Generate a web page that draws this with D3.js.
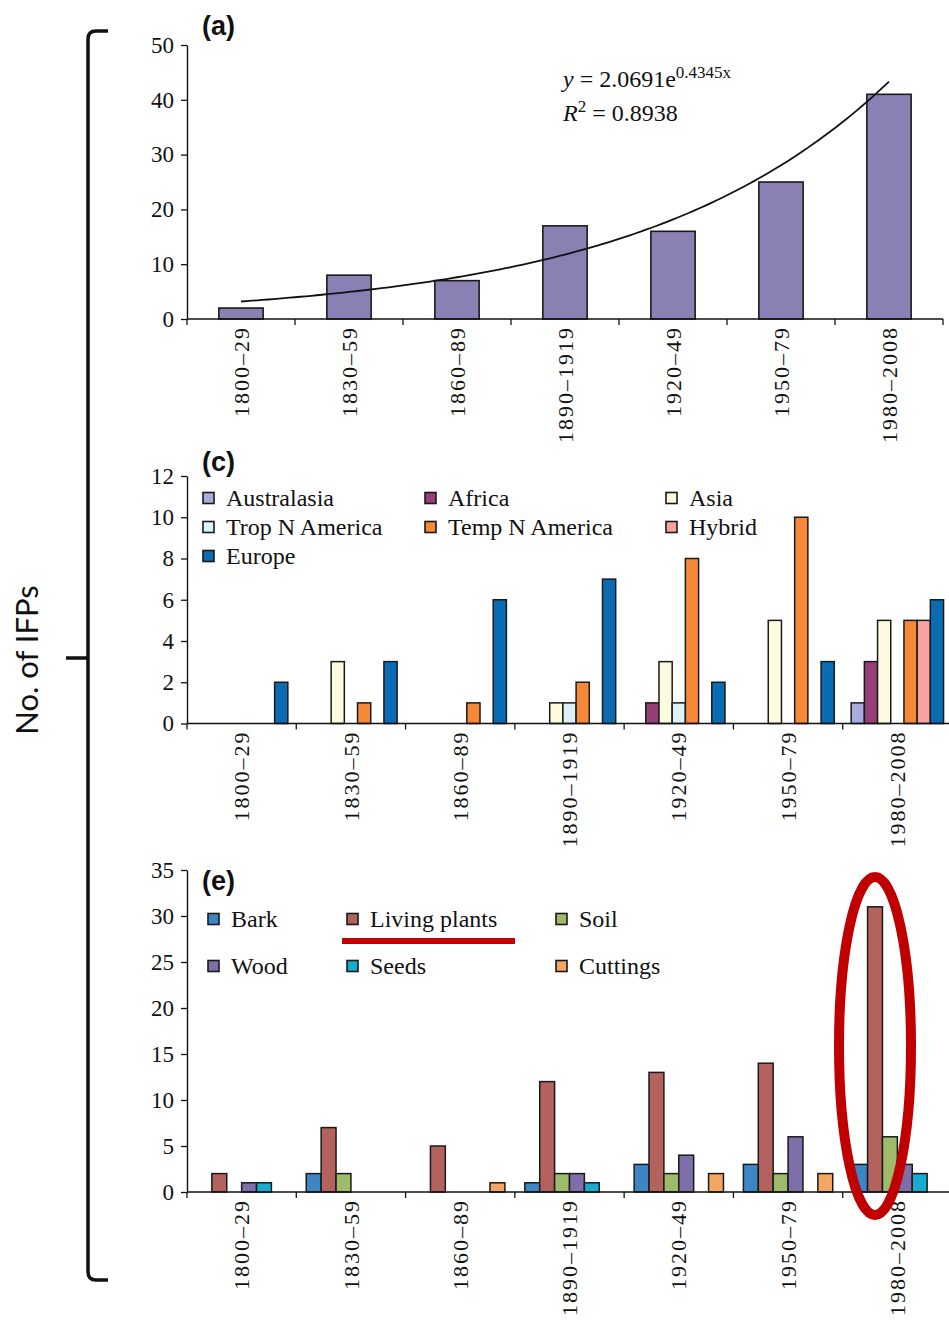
<!DOCTYPE html>
<html>
<head>
<meta charset="utf-8">
<script src="https://cdn.jsdelivr.net/npm/d3@7"></script>
<style>
  html, body { margin: 0; padding: 0; background: #fff; }
  svg { display: block; }
  .tick text { font-family: "Liberation Serif", "Times New Roman", serif; }
</style>
</head>
<body>
<svg id="fig" width="949" height="1323"></svg>
<script>
// ---- data ----
const periods = ["1800–29", "1830–59", "1860–89", "1890–1919", "1920–49", "1950–79", "1980–2008"];

// (a) total introduced forest pathogens per period
const totalIFPs = [2, 8, 7, 17, 16, 25, 41];
const fitA = 2.0691, fitB = 0.4345;   // exponential trend y = a·e^(b·x)
const fitR2 = 0.8938;

// (c) by region of origin
const regionNames = ["Australasia", "Africa", "Asia", "Trop N America", "Temp N America", "Hybrid", "Europe"];
const australasia = [0, 0, 0, 0, 0, 0, 1];
const africa      = [0, 0, 0, 0, 1, 0, 3];
const asia        = [0, 3, 0, 1, 3, 5, 5];
const tropNAm     = [0, 0, 0, 1, 1, 0, 0];
const tempNAm     = [0, 1, 1, 2, 8, 10, 5];
const hybrid      = [0, 0, 0, 0, 0, 0, 5];
const europe      = [2, 3, 6, 7, 2, 3, 6];
const regionColors = ["#a9acdc", "#943f75", "#fcfadf", "#ddf2f8", "#f6883a", "#f8a3a0", "#0b6cb4"];

// (e) by pathway
const pathwayNames = ["Bark", "Living plants", "Soil", "Wood", "Seeds", "Cuttings"];
const bark         = [0, 2, 0, 1, 3, 3, 3];
const livingPlants = [2, 7, 5, 12, 13, 14, 31];
const soil         = [0, 2, 0, 2, 2, 2, 6];
const wood         = [1, 0, 0, 2, 4, 6, 3];
const seeds        = [1, 0, 0, 1, 0, 0, 2];
const cuttings     = [0, 0, 1, 0, 2, 2, 0];
const pathwayColors = ["#3d86c6", "#b4625e", "#9dbb6b", "#7f6fa8", "#17abd0", "#f5a662"];

const ticksA = [0, 10, 20, 30, 40, 50];
const ticksC = [0, 2, 4, 6, 8, 10, 12];
const ticksE = [0, 5, 10, 15, 20, 25, 30, 35];

// ---- drawing ----
const svg = d3.select("#fig");
const serif = "'Liberation Serif', 'Times New Roman', serif";
const sans = "'Liberation Sans', Arial, sans-serif";
const AXIS_X = 187;

function yAxis(g, y, ticks) {
  g.call(d3.axisLeft(y).tickValues(ticks).tickSize(6).tickSizeOuter(0).tickPadding(7))
   .call(s => s.select(".domain").attr("stroke", "#111").attr("stroke-width", 1.4))
   .call(s => s.selectAll(".tick line").attr("stroke", "#111").attr("stroke-width", 1.3))
   .call(s => s.selectAll(".tick text").attr("font-size", 23).attr("fill", "#111"));
}

function xAxis(g, x0, y0) {
  const [r0, r1] = x0.range();
  g.append("line").attr("x1", r0).attr("x2", r1).attr("y1", y0).attr("y2", y0)
    .attr("stroke", "#111").attr("stroke-width", 1.4);
  const bounds = periods.map(p => x0(p)).concat([r1]);
  g.selectAll("line.b").data(bounds).join("line").attr("class", "b")
    .attr("x1", d => d).attr("x2", d => d).attr("y1", y0).attr("y2", y0 + 6)
    .attr("stroke", "#111").attr("stroke-width", 1.3);
  g.selectAll("text.lab").data(periods).join("text").attr("class", "lab")
    .attr("transform", d => `translate(${x0(d) + x0.bandwidth() / 2},${y0 + 7}) rotate(-90)`)
    .attr("text-anchor", "end").attr("dy", "0.35em")
    .attr("font-family", serif).attr("font-size", 22).attr("letter-spacing", 2)
    .attr("fill", "#111").text(d => d);
}

function panelLabel(txt, x, y) {
  svg.append("text").attr("x", x).attr("y", y).attr("font-family", sans)
    .attr("font-weight", "bold").attr("font-size", 27).attr("fill", "#111").text(txt);
}

// ===== (a) =====
{
  const y = d3.scaleLinear().domain([0, 50]).range([319, 45]);
  const x0 = d3.scaleBand().domain(periods).range([AXIS_X, 943]).padding(0);
  const xb = d3.scaleBand().domain(periods).range([AXIS_X, 943]).paddingInner(0.59).paddingOuter(0.295);
  const g = svg.append("g");
  g.selectAll("rect").data(totalIFPs).join("rect")
    .attr("x", (d, i) => xb(periods[i])).attr("width", xb.bandwidth())
    .attr("y", d => y(d)).attr("height", d => y(0) - y(d))
    .attr("fill", "#8a80b4").attr("stroke", "#1a1a1a").attr("stroke-width", 1.6);

  const xi = d3.scaleLinear().domain([1, 7]).range([x0(periods[0]) + x0.bandwidth() / 2, x0(periods[6]) + x0.bandwidth() / 2]);
  const pts = d3.range(1, 7.001, 0.05).map(t => [xi(t), y(fitA * Math.exp(fitB * t))]);
  g.append("path").attr("d", d3.line()(pts)).attr("fill", "none").attr("stroke", "#111").attr("stroke-width", 1.8);

  xAxis(g, x0, 319);
  yAxis(g.append("g").attr("transform", `translate(${AXIS_X},0)`), y, ticksA);

  const eq = g.append("text").attr("x", 563).attr("y", 87).attr("font-family", serif).attr("font-size", 24).attr("fill", "#111");
  eq.append("tspan").attr("font-style", "italic").text("y");
  eq.append("tspan").text(` = ${fitA}e`);
  eq.append("tspan").attr("font-size", 17).attr("dy", -9).text(`${fitB}x`);
  const r2 = g.append("text").attr("x", 563).attr("y", 121).attr("font-family", serif).attr("font-size", 24).attr("fill", "#111");
  r2.append("tspan").attr("font-style", "italic").text("R");
  r2.append("tspan").attr("font-size", 17).attr("dy", -9).text("2");
  r2.append("tspan").attr("dy", 9).text(` = ${fitR2}`);
  panelLabel("(a)", 202, 35);
}

// grouped bar panel used by (c) and (e)
function groupedPanel(opts) {
  const { series, names, colors, y, ticks, padOuter } = opts;
  const x0 = d3.scaleBand().domain(periods).range([AXIS_X, 952]).padding(0);
  const x1 = d3.scaleBand().domain(names).range([0, x0.bandwidth()]).paddingInner(0).paddingOuter(padOuter);
  const g = svg.append("g");
  const rows = [];
  series.forEach((vals, si) => vals.forEach((v, pi) => { if (v > 0) rows.push({ p: periods[pi], s: names[si], v, c: colors[si] }); }));
  g.selectAll("rect").data(rows).join("rect")
    .attr("x", d => x0(d.p) + x1(d.s)).attr("width", x1.bandwidth())
    .attr("y", d => y(d.v)).attr("height", d => y(0) - y(d.v))
    .attr("fill", d => d.c).attr("stroke", "#1a1a1a").attr("stroke-width", 1.5);
  xAxis(g, x0, y(0));
  yAxis(g.append("g").attr("transform", `translate(${AXIS_X},0)`), y, ticks);
  return g;
}

function legend(names, colors, cols, rows, textDx) {
  const g = svg.append("g");
  names.forEach((n, i) => {
    const cx = cols[i % cols.length], cy = rows[Math.floor(i / cols.length)];
    g.append("rect").attr("x", cx).attr("y", cy - 5.5).attr("width", 11).attr("height", 11)
      .attr("fill", colors[i]).attr("stroke", "#1a1a1a").attr("stroke-width", 1.6);
    g.append("text").attr("x", cx + textDx).attr("y", cy + 8).attr("font-family", serif)
      .attr("font-size", 24).attr("fill", "#111").text(n);
  });
}

// ===== (c) =====
groupedPanel({
  series: [australasia, africa, asia, tropNAm, tempNAm, hybrid, europe],
  names: regionNames, colors: regionColors,
  y: d3.scaleLinear().domain([0, 12]).range([723.5, 476]),
  ticks: ticksC, padOuter: 0.64
});
legend(regionNames, regionColors, [203, 425, 666], [498, 527, 556], 23);
panelLabel("(c)", 202, 471);

// ===== (e) =====
groupedPanel({
  series: [bark, livingPlants, soil, wood, seeds, cuttings],
  names: pathwayNames, colors: pathwayColors,
  y: d3.scaleLinear().domain([0, 35]).range([1192, 870]),
  ticks: ticksE, padOuter: 0.67
});
legend(pathwayNames, pathwayColors, [208, 347, 556], [919, 966], 23);
panelLabel("(e)", 202, 890);

// emphasis marks around the living-plants pathway
svg.append("line").attr("x1", 342).attr("x2", 515).attr("y1", 941).attr("y2", 941)
  .attr("stroke", "#c00000").attr("stroke-width", 6);
svg.append("ellipse").attr("cx", 875).attr("cy", 1046).attr("rx", 36).attr("ry", 169)
  .attr("fill", "none").attr("stroke", "#c00000").attr("stroke-width", 10);

// shared y-axis title with bracket
svg.append("path")
  .attr("d", "M108,31 L96,31 Q88,31 88,39 L88,1272 Q88,1280 96,1280 L108,1280 M66,658 L88,658")
  .attr("fill", "none").attr("stroke", "#111").attr("stroke-width", 3.5);
svg.append("text").attr("transform", "translate(38,660) rotate(-90)")
  .attr("text-anchor", "middle").attr("font-family", "Lato, 'Open Sans', sans-serif")
  .attr("font-size", 31).attr("fill", "#111").text("No. of IFPs");
</script>
</body>
</html>
